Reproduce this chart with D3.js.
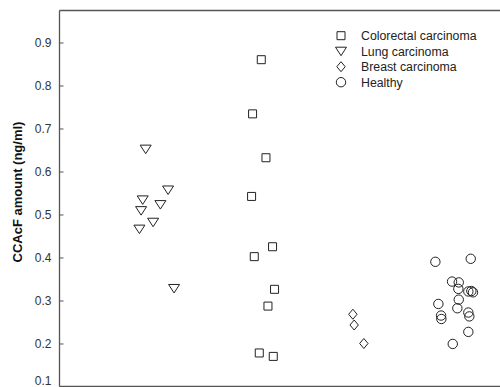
<!DOCTYPE html>
<html>
<head>
<meta charset="utf-8">
<script src="https://cdn.jsdelivr.net/npm/d3@7"></script>
<style>
  html, body { margin: 0; padding: 0; background: #fff; }
  svg { display: block; font-family: Arial, "Liberation Sans", sans-serif; }
</style>
</head>
<body>
<svg id="chart" width="500" height="387"></svg>
<script>
// Groups in legend order
const groups = ["Colorectal carcinoma", "Lung carcinoma", "Breast carcinoma", "Healthy"];
const symbols = ["square", "triangleDown", "diamond", "circle"];

// Group positions on the x axis (category units) and spread within each group
const colorectalX = [2.06, 1.973, 2.107, 1.963, 2.173, 1.99, 2.193, 2.127, 2.04, 2.18];
const colorectalY = [0.860, 0.734, 0.632, 0.542, 0.425, 0.402, 0.326, 0.287, 0.178, 0.170];

const lungX = [0.903, 1.127, 0.873, 1.05, 0.857, 0.977, 0.84, 1.187];
const lungY = [0.652, 0.557, 0.534, 0.523, 0.509, 0.482, 0.466, 0.328];

const breastX = [2.977, 2.99, 3.087];
const breastY = [0.268, 0.243, 0.200];

const healthyX = [3.803, 4.157, 3.97, 4.037, 4.033, 4.133, 4.163, 4.18, 4.037, 3.833, 4.023, 4.133, 3.86, 4.143, 3.863, 4.133, 3.977];
const healthyY = [0.390, 0.397, 0.344, 0.342, 0.327, 0.321, 0.322, 0.319, 0.302, 0.292, 0.282, 0.272, 0.265, 0.263, 0.257, 0.227, 0.199];

const yTicks = [0.1, 0.2, 0.3, 0.4, 0.5, 0.6, 0.7, 0.8, 0.9];
const yTitle = "CCAcF amount (ng/ml)";

const svg = d3.select("#chart");
const plotLeft = 59.5, plotTop = 10.5, plotBottom = 386.5, plotRight = 500;

const x = d3.scaleLinear().domain([0.04, 4.45]).range([plotLeft, plotRight]);
const y = d3.scaleLinear().domain([0.1, 0.9744]).range([plotBottom, plotTop]);

// Marker paths
function markerPath(kind) {
  switch (kind) {
    case "square": return "M-4,-4H4V4H-4Z";
    case "triangleDown": return "M-5.5,-4H5.5L0,4.5Z";
    case "diamond": return "M0,-5L4.2,0L0,5L-4.2,0Z";
    default: return d3.arc()({innerRadius: 0, outerRadius: 4.7, startAngle: 0, endAngle: 2 * Math.PI});
  }
}

// Frame: left axis line plus top and bottom rules
const frame = svg.append("g").attr("stroke", "#555").attr("stroke-width", 1.3).attr("fill", "none");
frame.append("line").attr("x1", plotLeft).attr("x2", plotLeft).attr("y1", plotTop).attr("y2", plotBottom);
frame.append("line").attr("x1", plotLeft).attr("x2", plotRight).attr("y1", plotTop).attr("y2", plotTop);
frame.append("line").attr("x1", plotLeft).attr("x2", plotRight).attr("y1", plotBottom).attr("y2", plotBottom);

// Y axis with inward ticks
const yAxis = d3.axisLeft(y).tickValues(yTicks).tickFormat(d3.format(".1f")).tickSizeInner(-4).tickSizeOuter(0).tickPadding(8);
const ya = svg.append("g").attr("transform", `translate(${plotLeft},0)`).call(yAxis);
ya.select(".domain").remove();
ya.selectAll(".tick line").attr("stroke", "#555");
// the lowest label is lifted so it stays inside the page
ya.selectAll(".tick text")
  .attr("fill", "#333")
  .attr("font-size", 12)
  .attr("font-family", "Arial, 'Liberation Sans', sans-serif")
  .attr("dy", d => d === 0.1 ? "-0.2em" : "0.32em");

// Y axis title
svg.append("text")
  .attr("transform", `translate(22,192) rotate(-90)`)
  .attr("text-anchor", "middle")
  .attr("font-size", 13)
  .attr("font-weight", "bold")
  .attr("fill", "#111")
  .text(yTitle);

// Points
const series = [
  {xs: colorectalX, ys: colorectalY, sym: symbols[0]},
  {xs: lungX, ys: lungY, sym: symbols[1]},
  {xs: breastX, ys: breastY, sym: symbols[2]},
  {xs: healthyX, ys: healthyY, sym: symbols[3]}
];
const pts = svg.append("g");
series.forEach(s => {
  pts.selectAll(null)
    .data(s.ys.map((v, i) => ({x: s.xs[i], y: v})))
    .join("path")
    .attr("d", markerPath(s.sym))
    .attr("transform", d => `translate(${x(d.x)},${y(d.y)})`)
    .attr("fill", "none")
    .attr("stroke", "#222")
    .attr("stroke-width", 1);
});

// Legend
const legend = svg.append("g").attr("transform", "translate(341,35.7)");
groups.forEach((g, i) => {
  const row = legend.append("g").attr("transform", `translate(0,${i * 15.5})`);
  row.append("path").attr("d", markerPath(symbols[i]))
    .attr("fill", "none").attr("stroke", "#222").attr("stroke-width", 1);
  row.append("text").attr("x", 20).attr("dy", "0.35em")
    .attr("font-size", 12.3).attr("fill", "#222").text(g);
});
</script>
</body>
</html>
